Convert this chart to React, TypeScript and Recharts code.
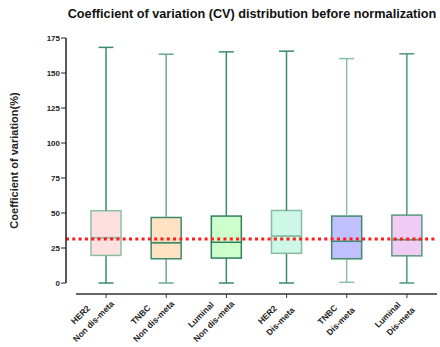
import React from 'react';
import { ComposedChart, Bar, XAxis, YAxis, ReferenceLine } from 'recharts';

const FONT = 'Liberation Sans, Arial, sans-serif';

// groups on the x axis (two-line labels)
const subtypes = ['HER2', 'TNBC', 'Luminal', 'HER2', 'TNBC', 'Luminal'];
const metaStatus = ['Non dis-meta', 'Non dis-meta', 'Non dis-meta', 'Dis-meta', 'Dis-meta', 'Dis-meta'];

// box plot stats, CV (%)
const mins = [0, 0, 0, 0, 0.5, 0];
const q1s = [19.7, 17.3, 17.8, 21.2, 17.3, 19.4];
const medians = [32.4, 28.8, 29.1, 33.6, 29.8, 31];
const q3s = [51.6, 46.8, 47.8, 51.8, 47.8, 48.5];
const maxs = [168.3, 163.4, 165.1, 165.6, 160.3, 163.7];

const yTicks = [0, 25, 50, 75, 100, 125, 150, 175];
const cvCutoff = 31.5;

const boxFills = ['#ffe0e0', '#ffe1c4', '#ccffcc', '#cdf7e6', '#c0c0ff', '#f0ccf5'];
const boxStrokes = ['#8dbfa6', '#3f8a6a', '#2f7f5c', '#86bca2', '#3f8a6a', '#5a9a7e'];
const whiskerStrokes = ['#3a8a6c', '#6aa88c', '#3a8a6c', '#3a8a6c', '#8cc0a8', '#4f9678'];

const data = subtypes.map((s, i) => ({
    id: i,
    subtype: s,
    status: metaStatus[i],
    base: mins[i],
    lowWhisker: q1s[i] - mins[i],
    lowBox: medians[i] - q1s[i],
    highBox: q3s[i] - medians[i],
    highWhisker: maxs[i] - q3s[i],
}));

let ctx = null;
function textWidth(str) {
    if (!ctx) ctx = document.createElement('canvas').getContext('2d');
    ctx.font = `bold 8.5px ${FONT}`;
    const w = ctx.measureText(str).width;
    return w > 0 ? w : str.length * 4.4;
}

const LowWhisker = (props) => {
    const { x, y, width, height, index } = props;
    const cx = x + width / 2;
    const c = whiskerStrokes[index];
    return (
        <g>
            <line x1={cx} x2={cx} y1={y} y2={y + height} stroke={c} strokeWidth={1.5} />
            <line x1={x + width / 4} x2={x + width * 3 / 4} y1={y + height} y2={y + height} stroke={c} strokeWidth={1.5} />
        </g>
    );
};

const HighWhisker = (props) => {
    const { x, y, width, height, index } = props;
    const cx = x + width / 2;
    const c = whiskerStrokes[index];
    return (
        <g>
            <line x1={cx} x2={cx} y1={y} y2={y + height} stroke={c} strokeWidth={1.5} />
            <line x1={x + width / 4} x2={x + width * 3 / 4} y1={y} y2={y} stroke={c} strokeWidth={1.5} />
        </g>
    );
};

const BoxHalf = (props) => {
    const { x, y, width, height, index } = props;
    return <rect x={x} y={y} width={width} height={height} fill={boxFills[index]} stroke={boxStrokes[index]} strokeWidth={1.5} />;
};

function renderXTick(props) {
    const { x, y, index } = props;
    const d = data[index];
    // offset axis: the x axis line sits 11px under the plot
    const axisY = y + 11;
    const w = Math.max(textWidth(d.subtype), textWidth(d.status));
    const cx = x + 7 - (w / 2 + 10) * 0.707;
    const cy = axisY + 24;
    const style = { fontSize: 8.5, fontWeight: 'bold', fontFamily: FONT, fill: '#222' };
    // two lines stacked along the perpendicular of the -45deg direction
    const x1 = cx - 6.5, y1 = cy - 3.3 + 3;
    const x2 = cx + 6.5, y2 = cy + 3.3 + 3;
    return (
        <g key={`xt-${index}`}>
            <line x1={x} x2={x} y1={axisY} y2={axisY + 4} stroke="#333" strokeWidth={1} />
            <text x={x1} y={y1} transform={`rotate(-45 ${x1} ${y1 - 3})`} textAnchor="middle" style={style}>{d.subtype}</text>
            <text x={x2} y={y2} transform={`rotate(-45 ${x2} ${y2 - 3})`} textAnchor="middle" style={style}>{d.status}</text>
        </g>
    );
}

const YLabel = (props) => {
    const { viewBox } = props;
    const x = viewBox.x + 13.5;
    const y = viewBox.y + viewBox.height / 2;
    return (
        <text x={x} y={y} transform={`rotate(-90, ${x}, ${y})`} textAnchor="middle" dominantBaseline="central"
            style={{ fontSize: 11, fontWeight: 'bold', fontFamily: FONT, fill: '#222' }}>
            Coefficient of variation(%)
        </text>
    );
};

export default function App() {
    return (
        <div style={{ position: 'absolute', left: 0, top: 0, width: 440, height: 347, background: '#fff' }}>
            <svg width={440} height={30} style={{ position: 'absolute', left: 0, top: 0 }}>
                <text x={252} y={17.5} textAnchor="middle" style={{ fontSize: 12.7, fontWeight: 'bold', fontFamily: FONT, fill: '#111' }}>
                    Coefficient of variation (CV) distribution before normalization
                </text>
            </svg>
            <ComposedChart width={440} height={347} data={data} margin={{ top: 38, right: 3, bottom: 0, left: 0 }}>
                <XAxis
                    dataKey="id"
                    type="category"
                    padding={{ left: 10, right: 0 }}
                    height={64}
                    tickLine={false}
                    tickSize={0}
                    tickMargin={0}
                    interval={0}
                    axisLine={{ stroke: '#333', strokeWidth: 1.5, transform: 'translate(0, 11)', strokeDasharray: '0 10 1000' }}
                    tick={renderXTick}
                />
                <YAxis
                    type="number"
                    domain={[0, 175]}
                    ticks={yTicks}
                    width={66}
                    tickSize={5}
                    tickMargin={1}
                    axisLine={{ stroke: '#222', strokeWidth: 1.5 }}
                    tickLine={{ stroke: '#222', strokeWidth: 1 }}
                    tick={{ fontSize: 8, fontWeight: 'bold', fontFamily: FONT, fill: '#222' }}
                    label={<YLabel />}
                />
                <Bar dataKey="base" stackId="box" barSize={30} fill="none" isAnimationActive={false} />
                <Bar dataKey="lowWhisker" stackId="box" barSize={30} shape={<LowWhisker />} isAnimationActive={false} />
                <Bar dataKey="lowBox" stackId="box" barSize={30} shape={<BoxHalf />} isAnimationActive={false} />
                <Bar dataKey="highBox" stackId="box" barSize={30} shape={<BoxHalf />} isAnimationActive={false} />
                <Bar dataKey="highWhisker" stackId="box" barSize={30} shape={<HighWhisker />} isAnimationActive={false} />
                <ReferenceLine y={cvCutoff} stroke="#ff1a1a" strokeWidth={3} strokeDasharray="3 3.3" ifOverflow="visible" />
            </ComposedChart>
        </div>
    );
}
